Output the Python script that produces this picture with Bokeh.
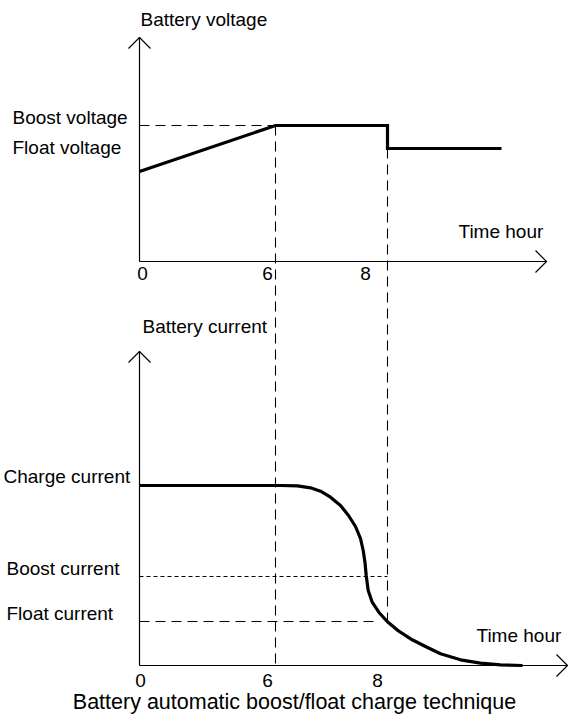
from bokeh.plotting import figure
from bokeh.models import Range1d
from bokeh.core.properties import value
from bokeh.embed import file_html
from bokeh.resources import INLINE

FONT = value("Liberation Sans")

# ---------------- schematic data (diagram units) ----------------
# Top panel: battery voltage
volt_t = [139, 275, 387, 387, 501]
volt_level = [171, 125, 125, 148, 148]
boost_voltage_level = 125
float_voltage_level = 148

# Bottom panel: battery current
curr_t = [139, 280, 297, 310, 320, 330, 340, 348, 355, 360, 362.7, 364.5,
          365.7, 367.7, 371.7, 378.3, 386.7, 398.3, 411.7, 425, 440, 460,
          480, 500, 522]
curr_level = [485, 485, 485.3, 487.3, 490.7, 496.7, 505, 515, 526, 538,
              550, 562, 575, 590, 601.7, 611.7, 621, 630.7, 639.3, 646,
              653.3, 659.3, 662.7, 664.3, 665]
charge_current_level = 485
boost_current_level = 576
float_current_level = 621

# Time markers (schematic positions)
t_origin = 139
t_boost_end_6h = 275
t_switch = 387
t_float_dash_end = 377

# Axes geometry
top_axis_y, top_axis_top, top_axis_end = 261, 37, 546
bot_axis_y, bot_axis_top, bot_axis_end = 665, 351, 567

# Tick labels
tick_labels = ["0", "6", "8"]
top_tick_x = [142, 267, 365]
bot_tick_x = [140, 267, 377]
top_tick_y = 280
bot_tick_y = 687

# ---------------- figure ----------------
p = figure(width=568, height=717, x_range=Range1d(0, 568), y_range=Range1d(717, 0),
           output_backend="svg", toolbar_location=None, x_axis_type=None,
           y_axis_type=None, min_border=0)
p.grid.visible = False
p.outline_line_color = None
p.background_fill_color = "white"
p.border_fill_color = "white"

AX = dict(line_color="black", line_width=1.2)
# axes lines
p.line([t_origin, t_origin], [top_axis_y, top_axis_top], **AX)
p.line([t_origin, top_axis_end], [top_axis_y, top_axis_y], **AX)
p.line([t_origin, t_origin], [bot_axis_y, bot_axis_top], **AX)
p.line([t_origin, bot_axis_end], [bot_axis_y, bot_axis_y], **AX)
# arrow heads (open chevrons)
a = 11
p.line([t_origin - a, t_origin, t_origin + a], [top_axis_top + a, top_axis_top, top_axis_top + a], **AX)
p.line([t_origin - a, t_origin, t_origin + a], [bot_axis_top + a, bot_axis_top, bot_axis_top + a], **AX)
p.line([top_axis_end - a, top_axis_end, top_axis_end - a], [top_axis_y - a, top_axis_y, top_axis_y + a], **AX)
p.line([bot_axis_end - a, bot_axis_end, bot_axis_end - a], [bot_axis_y - a, bot_axis_y, bot_axis_y + a], **AX)

# dashed guide lines
LD = dict(line_color="black", line_width=1.1, line_dash="10 6")
SD = dict(line_color="black", line_width=1.0, line_dash="4 3")
p.line([t_origin, t_boost_end_6h], [boost_voltage_level, boost_voltage_level], **LD)
p.line([t_boost_end_6h, t_boost_end_6h], [boost_voltage_level, bot_axis_y], **LD)
p.line([t_switch, t_switch], [float_voltage_level, float_current_level], **LD)
p.line([t_origin, t_switch], [boost_current_level, boost_current_level], **SD)
p.line([t_origin, t_float_dash_end], [float_current_level, float_current_level], **LD)

# main curves
p.line(volt_t, volt_level, line_color="black", line_width=3.2, line_join="miter")
p.line(curr_t, curr_level, line_color="black", line_width=3.2, line_join="round")

# texts
TS = "19px"
def txt(x, y, s, align="left", size=TS):
    p.text(x=[x], y=[y], text=[s], text_font=FONT, text_font_size=size,
           text_align=align, text_baseline="alphabetic", text_color="black",
           y_offset=-7)

txt(140, 26, "Battery voltage")
txt(12, 124, "Boost voltage")
txt(12, 154, "Float voltage")
txt(458, 238, "Time hour")
txt(142, 333, "Battery current")
txt(3, 483, "Charge current")
txt(6, 575, "Boost current")
txt(6, 620, "Float current")
txt(476, 642, "Time hour")
for lbl, x in zip(tick_labels, top_tick_x):
    txt(x, top_tick_y, lbl, align="center")
for lbl, x in zip(tick_labels, bot_tick_x):
    txt(x, bot_tick_y, lbl, align="center")
txt(294, 708, "Battery automatic boost/float charge technique", align="center", size="21.5px")

open("out.html", "w").write(file_html(p, INLINE))
